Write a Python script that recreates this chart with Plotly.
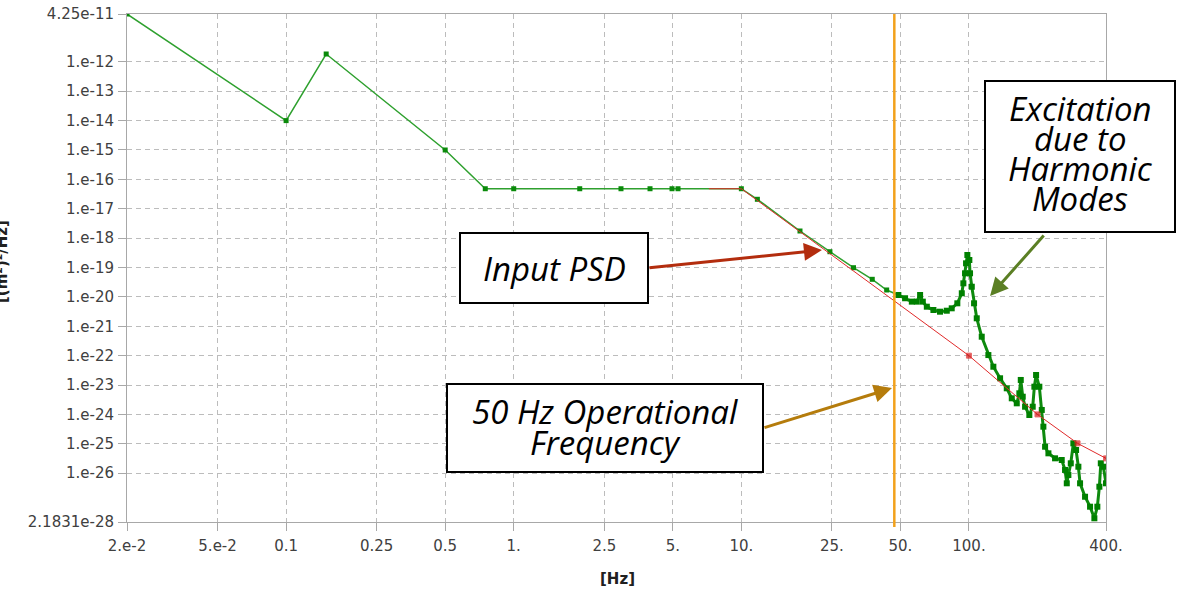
import math
import plotly.graph_objects as go

# ---------------- data ----------------
green_freq = [0.02, 0.1, 0.15, 0.5, 0.75, 1.0, 1.95, 2.96, 3.97, 4.96, 5.27, 10.0,
              11.76, 18.1, 24.5, 31.1, 37.6, 43.5, 48.97,
              52.4, 56.1, 59.0, 61.0, 62.7, 65.3, 69.8, 74.6, 79.9, 84.0, 88.9, 93.0,
              94.5, 96.1, 97.1, 98.4, 100.4, 101.1, 102.9, 105.3, 108.2, 113.8, 121.7,
              128.0, 137.0, 146.6, 154.2, 162.2, 166.5, 168.9, 172.3, 176.4, 184.2,
              190.6, 193.8, 197.2, 203.8, 208.9, 212.3, 216.0, 223.4, 238.9, 255.6,
              264.3, 269.0, 273.4, 280.1, 287.5, 295.5, 302.5, 307.7, 323.6, 340.4,
              355.6, 366.5, 374.1, 379.5, 389.5, 400.0]
green_psd = [4.25e-11, 1.0e-14, 1.85e-12, 1.0e-15, 4.8e-17, 4.8e-17, 4.8e-17, 4.8e-17,
             4.8e-17, 4.8e-17, 4.8e-17, 4.8e-17,
             2.1e-17, 1.75e-18, 3.45e-19, 9.86e-20, 3.97e-20, 1.72e-20, 1.16e-20,
             9.0e-21, 6.9e-21, 6.9e-21, 1.16e-20, 6.9e-21, 4.64e-21, 3.58e-21, 3.14e-21,
             3.39e-21, 4.09e-21, 6.06e-21, 1.33e-20,
             2.9e-20, 6.36e-20, 1.39e-19, 2.67e-19, 1.8e-19, 6.36e-20, 2.22e-20, 6.06e-21,
             1.87e-21, 4.42e-22, 1.05e-22,
             4.21e-23, 1.7e-23, 7.76e-24, 3.54e-24, 2.39e-24, 5.24e-24, 1.49e-23, 4.01e-24,
             1.83e-24, 9.57e-25,
             1.83e-24, 8.79e-24, 2.2e-23, 8.79e-24, 1.42e-24, 3.83e-25, 7.97e-26, 4.75e-26,
             3.21e-26, 2.81e-26,
             1.29e-26, 4.53e-27, 8.69e-27, 2.17e-26, 1.04e-25, 6.15e-26, 1.66e-26, 4.53e-27,
             1.58e-27, 7.24e-28,
             2.92e-28, 7.24e-28, 3.47e-27, 2.17e-26, 1.66e-26, 4.53e-27]

input_freq = [7.2, 10.0, 100.0, 200.0, 300.0, 400.0]
input_psd = [4.8e-17, 4.8e-17, 1.0e-22, 1.0e-24, 1.04e-25, 3.2e-26]

operational_freq = 47.0

x_tickvals = [0.02, 0.05, 0.1, 0.25, 0.5, 1, 2.5, 5, 10, 25, 50, 100, 400]
x_ticktext = ["2.e-2", "5.e-2", "0.1", "0.25", "0.5", "1.", "2.5", "5.", "10.",
              "25.", "50.", "100.", "400."]
y_tickvals = [4.25e-11, 1e-12, 1e-13, 1e-14, 1e-15, 1e-16, 1e-17, 1e-18, 1e-19, 1e-20,
              1e-21, 1e-22, 1e-23, 1e-24, 1e-25, 1e-26, 2.1831e-28]
y_ticktext = ["4.25e-11", "1.e-12", "1.e-13", "1.e-14", "1.e-15", "1.e-16", "1.e-17",
              "1.e-18", "1.e-19", "1.e-20", "1.e-21", "1.e-22", "1.e-23", "1.e-24",
              "1.e-25", "1.e-26", "2.1831e-28"]

# ---------------- layout geometry ----------------
W, H = 1181, 590
L, R, T, B = 127, 75, 14, 68
PW, PH = W - L - R, H - T - B


def px(xp):
    return (xp - L) / PW


def py(yp):
    return (H - B - yp) / PH


split = next(i for i, f in enumerate(green_freq) if f >= 48)

fig = go.Figure()
fig.add_trace(go.Scatter(
    x=green_freq[:split + 1], y=green_psd[:split + 1], mode="lines+markers",
    line=dict(color="#2ea02e", width=1.5),
    marker=dict(symbol="square", size=5, color="#0a8a0a"),
    showlegend=False, hoverinfo="skip"))
fig.add_trace(go.Scatter(
    x=green_freq[split:], y=green_psd[split:], mode="lines+markers",
    line=dict(color="#0e8a0e", width=3),
    marker=dict(symbol="square", size=6, color="#008000"),
    showlegend=False, hoverinfo="skip"))
fig.add_trace(go.Scatter(
    x=input_freq, y=input_psd, mode="lines+markers",
    line=dict(color="#e02a2a", width=1),
    marker=dict(symbol="square", size=[0, 0] + [5] * (len(input_freq) - 2),
                color="#d01515"),
    showlegend=False, hoverinfo="skip"))

fig.add_shape(type="line", xref="x", yref="paper",
              x0=operational_freq, x1=operational_freq, y0=-0.01, y1=1,
              line=dict(color="#f2a11c", width=2.5))

tick_font = dict(family="DejaVu Sans", size=15, color="#404040")
grid_kw = dict(showgrid=True, gridcolor="#bcbcbc", gridwidth=1, griddash="5px,4px",
               ticks="outside", ticklen=8, tickcolor="#a8a8a8", showline=True,
               linecolor="#a8a8a8", linewidth=1, mirror=True, zeroline=False,
               tickfont=tick_font)

fig.update_xaxes(type="log", range=[math.log10(0.02), math.log10(400)],
                 tickmode="array", tickvals=x_tickvals, ticktext=x_ticktext,
                 ticklabelstandoff=2, **grid_kw)
fig.update_yaxes(type="log", range=[math.log10(2.1831e-28), math.log10(4.25e-11)],
                 tickmode="array", tickvals=y_tickvals, ticktext=y_ticktext,
                 ticklabelstandoff=1, **grid_kw)

box_font = dict(family="Open Sans", size=33, color="black", style="italic")
boxes = [
    ((460, 233, 648, 303), [("Input PSD", 554, 268)]),
    ((447, 384, 763, 472), [("50 Hz Operational", 605, 411),
                            ("Frequency", 605, 442)]),
    ((985, 81, 1175, 232), [("Excitation", 1080, 108),
                            ("due to", 1080, 138),
                            ("Harmonic", 1080, 168),
                            ("Modes", 1080, 198)]),
]
annotations = []
for (x0, y0, x1, y1), lines in boxes:
    fig.add_shape(type="rect", xref="paper", yref="paper",
                  x0=px(x0), x1=px(x1), y0=py(y1), y1=py(y0),
                  line=dict(color="black", width=2), fillcolor="white", layer="above")
    for txt, cx, cy in lines:
        annotations.append(dict(text=txt, xref="paper", yref="paper", x=px(cx), y=py(cy),
                                xanchor="center", yanchor="middle", showarrow=False,
                                font=box_font))

# arrows (head in data coords, tail as pixel offset)
arrows = [
    (22.6, 3.94e-19, -174, 18, "#b32d0e"),
    (45.9, 7.9e-24, -129, 40, "#b57c0c"),
    (123.8, 1.07e-20, 55, -62, "#5b7f24"),
]
for f, v, ax, ay, col in arrows:
    annotations.append(dict(x=math.log10(f), y=math.log10(v), xref="x", yref="y",
                            text="", showarrow=True, ax=ax, ay=ay,
                            arrowhead=2, arrowsize=1.2, arrowwidth=3, arrowcolor=col,
                            standoff=0))

annotations.append(dict(text="<b>[Hz]</b>", xref="paper", yref="paper", x=px(617),
                        y=py(579), showarrow=False, xanchor="center", yanchor="middle",
                        font=dict(family="DejaVu Sans", size=15, color="#202020")))
annotations.append(dict(text="<b>[(m²)²/Hz]</b>", xref="paper", yref="paper", x=px(2),
                        y=py(262), showarrow=False, xanchor="center", yanchor="middle",
                        textangle=-90,
                        font=dict(family="DejaVu Sans", size=15, color="#202020")))

fig.update_layout(width=W, height=H, margin=dict(l=L, r=R, t=T, b=B, autoexpand=False),
                  paper_bgcolor="white", plot_bgcolor="white",
                  annotations=annotations, showlegend=False)

fig.write_html("out.html", config={"displayModeBar": False},
               post_script="document.body.style.margin='0';")
